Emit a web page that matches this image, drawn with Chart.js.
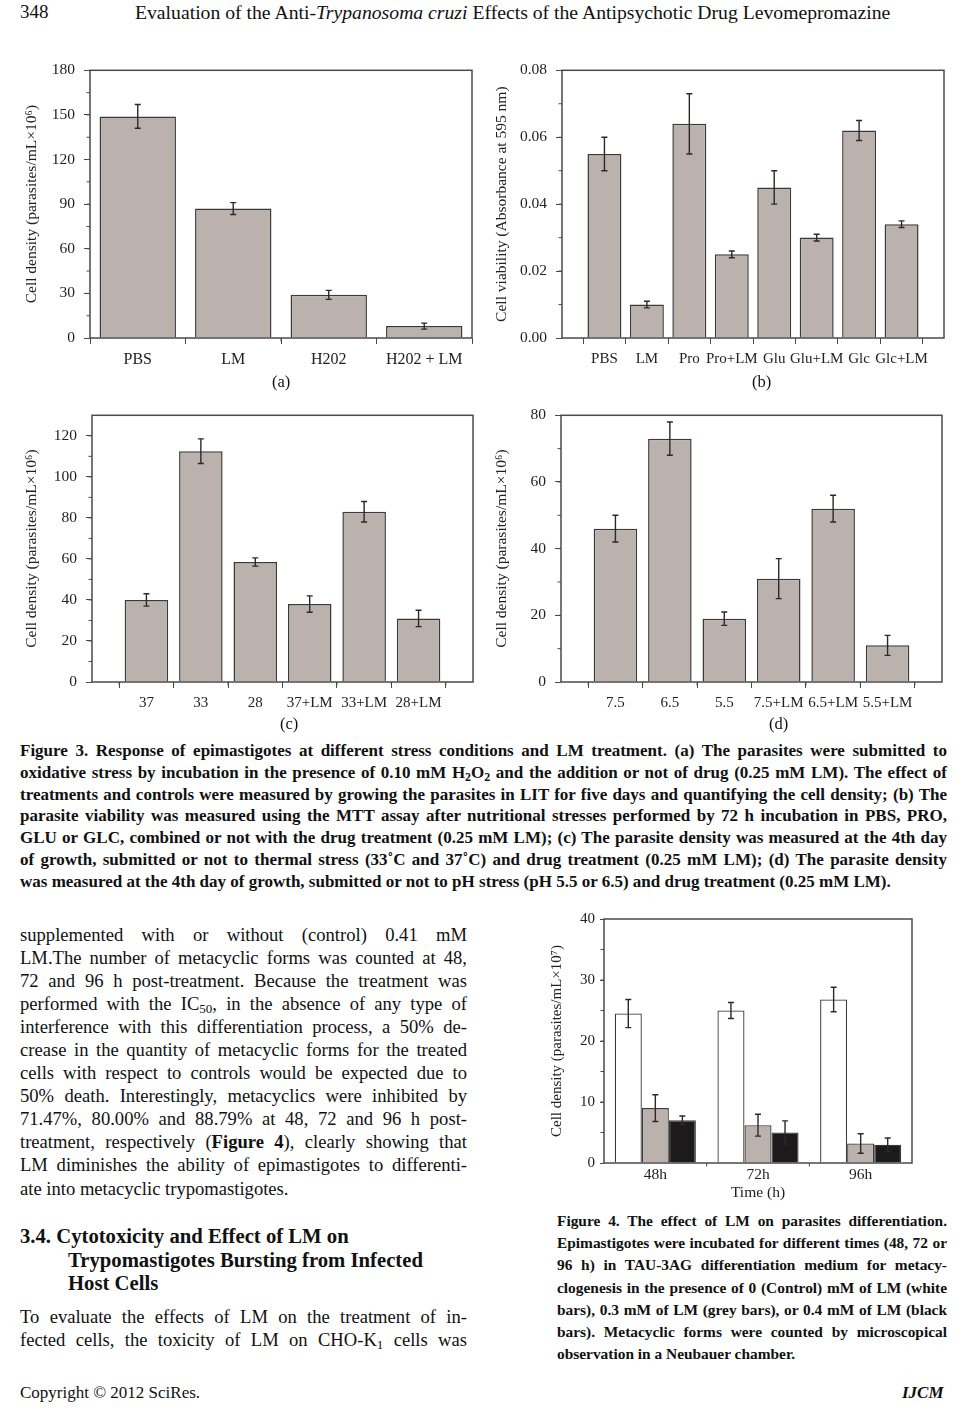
<!DOCTYPE html>
<html>
<head>
<meta charset="utf-8">
<script src="https://cdn.jsdelivr.net/npm/chart.js@4"></script>
<style>
  html, body { margin:0; padding:0; background:#fff; }
  body { width:967px; height:1414px; position:relative; overflow:hidden; font-family:"Liberation Serif", "Times New Roman", serif; color:#111; }
  canvas { position:absolute; }
  .t { position:absolute; white-space:nowrap; }
  .j { text-align:justify; text-align-last:justify; white-space:nowrap; }
  .cap { font-weight:bold; }
  sub { font-size:0.7em; vertical-align:-0.25em; line-height:0; }
</style>
</head>
<body>
<div class="t" style="left:20px;top:1px;font-size:19px;">348</div>
<div class="t" style="left:135px;top:1px;font-size:19.7px;">Evaluation of the Anti-<i>Trypanosoma cruzi</i> Effects of the Antipsychotic Drug Levomepromazine</div>

<canvas id="ca" width="460" height="322" style="left:20px;top:52px;"></canvas>
<canvas id="cb" width="460" height="322" style="left:490px;top:52px;"></canvas>
<canvas id="cc" width="460" height="320" style="left:20px;top:397px;"></canvas>
<canvas id="cd" width="460" height="320" style="left:490px;top:397px;"></canvas>
<canvas id="c4" width="375" height="300" style="left:545px;top:905px;"></canvas>

<div class="t" style="left:272px;top:372px;font-size:16.5px;">(a)</div>
<div class="t" style="left:752px;top:372px;font-size:16.5px;">(b)</div>
<div class="t" style="left:280px;top:714px;font-size:16.5px;">(c)</div>
<div class="t" style="left:769px;top:714px;font-size:16.5px;">(d)</div>

<div class="cap" style="position:absolute;left:20px;top:740px;width:927px;line-height:21.8px;font-size:17px;">
  <div class="j">Figure 3. Response of epimastigotes at different stress conditions and LM treatment. (a) The parasites were submitted to</div>
  <div class="j">oxidative stress by incubation in the presence of 0.10 mM H<sub>2</sub>O<sub>2</sub> and the addition or not of drug (0.25 mM LM). The effect of</div>
  <div class="j">treatments and controls were measured by growing the parasites in LIT for five days and quantifying the cell density; (b) The</div>
  <div class="j">parasite viability was measured using the MTT assay after nutritional stresses performed by 72 h incubation in PBS, PRO,</div>
  <div class="j">GLU or GLC, combined or not with the drug treatment (0.25 mM LM); (c) The parasite density was measured at the 4th day</div>
  <div class="j">of growth, submitted or not to thermal stress (33˚C and 37˚C) and drug treatment (0.25 mM LM); (d) The parasite density</div>
  <div style="white-space:nowrap;">was measured at the 4th day of growth, submitted or not to pH stress (pH 5.5 or 6.5) and drug treatment (0.25 mM LM).</div>
</div>

<div style="position:absolute;left:20px;top:922.5px;width:447px;line-height:23.1px;font-size:18.6px;">
  <div class="j">supplemented with or without (control) 0.41 mM</div>
  <div class="j">LM.The number of metacyclic forms was counted at 48,</div>
  <div class="j">72 and 96 h post-treatment. Because the treatment was</div>
  <div class="j">performed with the IC<sub>50</sub>, in the absence of any type of</div>
  <div class="j">interference with this differentiation process, a 50% de-</div>
  <div class="j">crease in the quantity of metacyclic forms for the treated</div>
  <div class="j">cells with respect to controls would be expected due to</div>
  <div class="j">50% death. Interestingly, metacyclics were inhibited by</div>
  <div class="j">71.47%, 80.00% and 88.79% at 48, 72 and 96 h post-</div>
  <div class="j">treatment, respectively (<b>Figure 4</b>), clearly showing that</div>
  <div class="j">LM diminishes the ability of epimastigotes to differenti-</div>
  <div style="white-space:nowrap;">ate into metacyclic trypomastigotes.</div>
</div>

<div style="position:absolute;left:20px;top:1225px;font-weight:bold;font-size:20.7px;line-height:23.5px;white-space:nowrap;">
  <div>3.4. Cytotoxicity and Effect of LM on</div>
  <div style="padding-left:48px;">Trypomastigotes Bursting from Infected</div>
  <div style="padding-left:48px;">Host Cells</div>
</div>

<div style="position:absolute;left:20px;top:1304.5px;width:447px;line-height:23.5px;font-size:18.6px;">
  <div class="j">To evaluate the effects of LM on the treatment of in-</div>
  <div class="j">fected cells, the toxicity of LM on CHO-K<sub>1</sub> cells was</div>
</div>

<div class="cap" style="position:absolute;left:557px;top:1210px;width:390px;line-height:22.2px;font-size:15.4px;">
  <div class="j">Figure 4. The effect of LM on parasites differentiation.</div>
  <div class="j">Epimastigotes were incubated for different times (48, 72 or</div>
  <div class="j">96 h) in TAU-3AG differentiation medium for metacy-</div>
  <div class="j">clogenesis in the presence of 0 (Control) mM of LM (white</div>
  <div class="j">bars), 0.3 mM of LM (grey bars), or 0.4 mM of LM (black</div>
  <div class="j">bars). Metacyclic forms were counted by microscopical</div>
  <div style="white-space:nowrap;">observation in a Neubauer chamber.</div>
</div>

<div class="t" style="left:20px;top:1383px;font-size:17px;">Copyright © 2012 SciRes.</div>
<div class="t" style="left:902px;top:1383px;font-size:17px;font-weight:bold;font-style:italic;">IJCM</div>

<script>
// ---------- DATA ----------
const catsA = ['PBS', 'LM', 'H202', 'H202 + LM'];
const valsA = [149, 87, 29, 8];
const errsA = [8, 4, 3, 2];

const catsB = ['PBS', 'LM', 'Pro', 'Pro+LM', 'Glu', 'Glu+LM', 'Glc', 'Glc+LM'];
const valsB = [0.055, 0.010, 0.064, 0.025, 0.045, 0.030, 0.062, 0.034];
const errsB = [0.005, 0.001, 0.009, 0.001, 0.005, 0.001, 0.003, 0.001];

const catsC = ['37', '33', '28', '37+LM', '33+LM', '28+LM'];
const valsC = [40, 112.5, 58.5, 38, 83, 31];
const errsC = [3, 6, 2, 4, 5, 4];

const catsD = ['7.5', '6.5', '5.5', '7.5+LM', '6.5+LM', '5.5+LM'];
const valsD = [46, 73, 19, 31, 52, 11];
const errsD = [4, 5, 2, 6, 4, 3];

const cats4 = ['48h', '72h', '96h'];
const control4 = [24.5, 25, 26.8];
const controlErr4 = [2.3, 1.3, 2.0];
const lm03_4 = [9, 6.2, 3.2];
const lm03Err4 = [2.2, 1.8, 1.6];
const lm04_4 = [7, 5, 3];
const lm04Err4 = [0.7, 1.9, 1.1];

const yTitleDensity6 = 'Cell density (parasites/mL×10⁶)';
const yTitleViability = 'Cell viability (Absorbance at 595 nm)';
const yTitleDensity7 = 'Cell density (parasites/mL×10⁷)';

// ---------- STYLE ----------
Chart.defaults.font.family = '"Liberation Serif", "Times New Roman", serif';
Chart.defaults.color = '#222';
const BAR = '#bbb2ad';
const EDGE = '#3a3a3a';

function pad(arr) { return [null, ...arr, null]; }
function padL(arr) { return ['', ...arr, '']; }

const extras = {
  id: 'extras',
  afterDatasetsDraw(chart) {
    const ctx = chart.ctx, ys = chart.scales.y;
    ctx.save();
    ctx.strokeStyle = '#2a2a2a';
    ctx.lineWidth = 1.4;
    chart.data.datasets.forEach((ds, di) => {
      if (!ds.errors) return;
      const meta = chart.getDatasetMeta(di);
      meta.data.forEach((bar, i) => {
        const v = ds.data[i], e = ds.errors[i];
        if (v == null || e == null) return;
        const yt = ys.getPixelForValue(v + e), yb = ys.getPixelForValue(v - e);
        const cx = bar.x, w = 3;
        ctx.beginPath();
        ctx.moveTo(cx, yt); ctx.lineTo(cx, yb);
        ctx.moveTo(cx - w, yt); ctx.lineTo(cx + w, yt);
        ctx.moveTo(cx - w, yb); ctx.lineTo(cx + w, yb);
        ctx.stroke();
      });
    });
    ctx.restore();
  },
  afterDraw(chart, args, opts) {
    const ctx = chart.ctx, a = chart.chartArea, ys = chart.scales.y, xs = chart.scales.x;
    ctx.save();
    ctx.strokeStyle = '#4a4a4a';
    ctx.lineWidth = 1.5;
    ctx.strokeRect(a.left, a.top, a.right - a.left, a.bottom - a.top);
    if (opts.minor) {
      ctx.lineWidth = 1;
      for (let v = ys.min + opts.minor; v < ys.max; v += opts.minor) {
        const p = ys.getPixelForValue(v);
        ctx.beginPath(); ctx.moveTo(a.left - 3.5, p); ctx.lineTo(a.left, p); ctx.stroke();
      }
    }
    if (opts.xHalf) {
      ctx.lineWidth = 1;
      const n = xs.ticks.length;
      for (let i = 0; i < n - 1; i++) {
        const p = (xs.getPixelForTick(i) + xs.getPixelForTick(i + 1)) / 2;
        ctx.beginPath(); ctx.moveTo(p, a.bottom); ctx.lineTo(p, a.bottom + 3.5); ctx.stroke();
      }
    }
    ctx.restore();
  }
};

function makeChart(id, canvasRect, plot, cfg) {
  const cv = document.getElementById(id);
  const yTicks = Object.assign({ font: { size: 15.5 }, padding: 9, color: '#222' }, cfg.yTicks || {});
  new Chart(cv, {
    type: 'bar',
    data: { labels: cfg.labels, datasets: cfg.datasets },
    options: {
      responsive: false,
      animation: false,
      devicePixelRatio: 1,
      layout: { padding: { left: 0, bottom: 0, top: plot.top - canvasRect.top, right: canvasRect.left + canvasRect.w - plot.right } },
      plugins: { legend: { display: false }, tooltip: { enabled: false }, extras: { minor: cfg.minor, xHalf: cfg.xHalf } },
      datasets: { bar: { categoryPercentage: cfg.catPct || 0.8, barPercentage: cfg.barPct || 1.0 } },
      scales: {
        x: {
          offset: cfg.offset,
          grid: { display: true, drawOnChartArea: false, drawTicks: true, tickLength: cfg.xTickLen == null ? 6 : cfg.xTickLen, color: '#4a4a4a', lineWidth: 1 },
          border: { display: false },
          ticks: { autoSkip: false, maxRotation: 0, minRotation: 0, font: { size: cfg.xFont || 16 }, padding: cfg.xPad || 6, color: '#222' },
          title: cfg.xTitle ? { display: true, text: cfg.xTitle, font: { size: 15.5 }, padding: { top: 0, bottom: 3 }, color: '#222' } : { display: false },
          afterFit(s) { s.height = canvasRect.top + canvasRect.h - plot.bottom; }
        },
        y: {
          min: cfg.yMin, max: cfg.yMax,
          grid: { display: true, drawOnChartArea: false, drawTicks: true, tickLength: cfg.yTickLen || 6, color: '#4a4a4a', lineWidth: 1 },
          border: { display: false },
          ticks: Object.assign(yTicks, { stepSize: cfg.yStep, callback: cfg.yFmt }),
          afterBuildTicks(s) { s.ticks = s.ticks.filter(t => Math.abs(Math.round(t.value / cfg.yStep) * cfg.yStep - t.value) < cfg.yStep * 1e-6); },
          title: { display: true, text: cfg.yTitle, font: { size: cfg.yTitleSize || 15.5 }, padding: { top: 3, bottom: 0 }, color: '#222' },
          afterFit(s) { s.width = plot.left - canvasRect.left; }
        }
      }
    },
    plugins: [extras]
  });
}

const bar1 = (data, errs) => [{ data, errors: errs, backgroundColor: BAR, borderColor: EDGE, borderWidth: 1.5, borderSkipped: 'bottom' }];

makeChart('ca', { left: 20, top: 52, w: 460, h: 322 }, { left: 90, top: 64, right: 472, bottom: 338 }, {
  labels: catsA, datasets: bar1(valsA, errsA), offset: true,
  yMin: 0, yMax: 180, yStep: 30, minor: 15, xHalf: true,
  yFmt: v => String(v), yTitle: yTitleDensity6
});

makeChart('cb', { left: 490, top: 52, w: 460, h: 322 }, { left: 562, top: 64, right: 944, bottom: 338 }, {
  labels: padL(catsB), datasets: bar1(pad(valsB), pad(errsB)), offset: false,
  yMin: 0, yMax: 0.08, yStep: 0.02, minor: 0.01, xHalf: false, xFont: 15,
  yFmt: v => v.toFixed(2), yTitle: yTitleViability
});

makeChart('cc', { left: 20, top: 397, w: 460, h: 320 }, { left: 92, top: 407, right: 473, bottom: 682 }, {
  labels: padL(catsC), datasets: bar1(pad(valsC), pad(errsC)), offset: false,
  yMin: 0, yMax: 130, yStep: 20, minor: 10, xHalf: true, xFont: 15,
  yFmt: v => String(v), yTitle: yTitleDensity6
});

makeChart('cd', { left: 490, top: 397, w: 460, h: 320 }, { left: 561, top: 407, right: 942, bottom: 682 }, {
  labels: padL(catsD), datasets: bar1(pad(valsD), pad(errsD)), offset: false,
  yMin: 0, yMax: 80, yStep: 20, minor: 10, xHalf: true, xFont: 15,
  yFmt: v => String(v), yTitle: yTitleDensity6
});

makeChart('c4', { left: 545, top: 905, w: 375, h: 300 }, { left: 604, top: 917, right: 912, bottom: 1163 }, {
  labels: cats4,
  datasets: [
    { data: control4, errors: controlErr4, backgroundColor: '#ffffff', borderColor: EDGE, borderWidth: 1.3 },
    { data: lm03_4, errors: lm03Err4, backgroundColor: BAR, borderColor: EDGE, borderWidth: 1.3 },
    { data: lm04_4, errors: lm04Err4, backgroundColor: '#1c1a1a', borderColor: EDGE, borderWidth: 1.3 }
  ],
  offset: true, catPct: 0.79, barPct: 1.0,
  yMin: 0, yMax: 40, yStep: 10, minor: 5, xHalf: true, xTickLen: 0, xPad: 3, xFont: 15.5,
  yTickLen: 4, yTicks: { font: { size: 15 }, padding: 5 },
  yFmt: v => String(v), yTitle: yTitleDensity7, yTitleSize: 15, xTitle: 'Time (h)'
});
</script>
</body>
</html>
